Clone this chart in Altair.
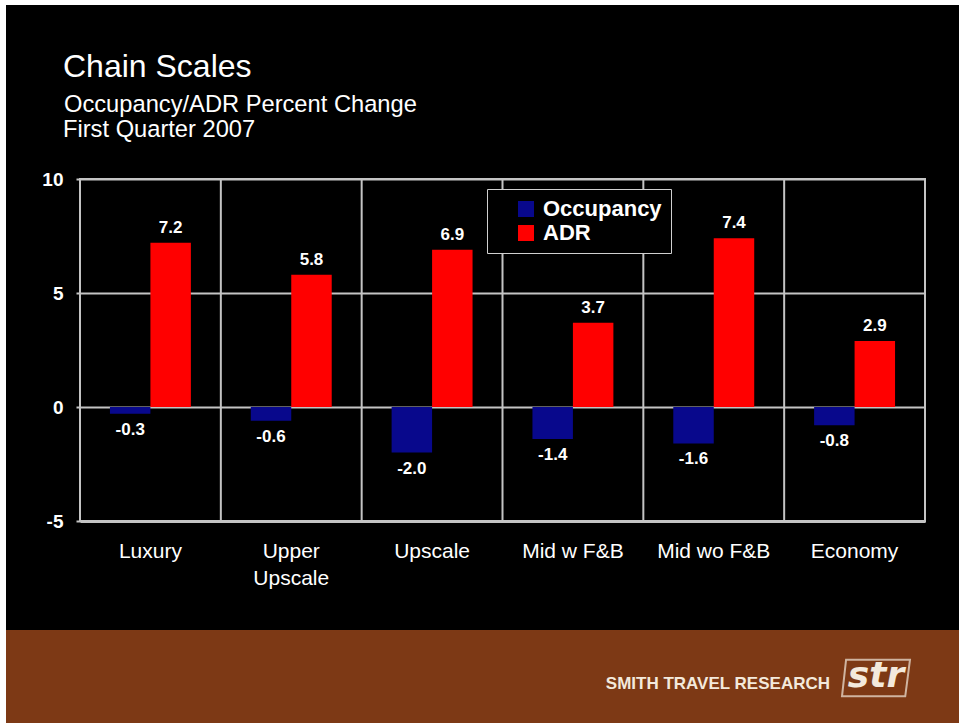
import altair as alt
import pandas as pd

categories = ["Luxury", "Upper Upscale", "Upscale", "Mid w F&B", "Mid wo F&B", "Economy"]
occupancy = [-0.3, -0.6, -2.0, -1.4, -1.6, -0.8]
adr = [7.2, 5.8, 6.9, 3.7, 7.4, 2.9]
series = ["Occupancy", "ADR"]
colors = ["#08088c", "#ff0000"]
y_ticks = [-5, 0, 5, 10]
title_lines = ["Chain Scales", "Occupancy/ADR Percent Change", "First Quarter 2007"]
footer_text = "SMITH TRAVEL RESEARCH"
logo_text = "str"

rows = []
for c, o, a in zip(categories, occupancy, adr):
    rows.append({"category": c, "series": "Occupancy", "value": o})
    rows.append({"category": c, "series": "ADR", "value": a})
df = pd.DataFrame(rows)
cat_df = pd.DataFrame({"category": categories})
one = pd.DataFrame({"k": [0]})

W, H = 845, 342
PL, PT = 80, 179
GRID = "#c4c4c4"
FONT = "Liberation Sans"

x_enc = alt.X(
    "category:N", sort=categories,
    scale=alt.Scale(paddingInner=0, paddingOuter=0),
    axis=alt.Axis(
        title=None, labelAngle=0, grid=False, ticks=False, bandPosition=0.5,
        labelAlign="center", labelBaseline="top",
        domain=True, domainColor=GRID, domainWidth=3,
        labelColor="white", labelFont=FONT, labelFontSize=21,
        labelPadding=19, labelLineHeight=27,
        labelExpr="datum.label == 'Upper Upscale' ? ['Upper', 'Upscale'] : datum.label",
    ),
)
xoff = alt.XOffset("series:N", sort=series,
                   scale=alt.Scale(domain=series, paddingInner=0, paddingOuter=0.74))
y_enc = alt.Y(
    "value:Q",
    scale=alt.Scale(domain=[-5, 10], nice=False, zero=False),
    axis=alt.Axis(
        values=y_ticks, title=None, grid=True, gridColor=GRID, gridWidth=2,
        domain=False, ticks=True, tickSize=4, tickColor=GRID, tickWidth=2,
        labelColor="white", labelFont=FONT, labelFontSize=19, labelFontWeight="bold",
        labelPadding=13, labelExpr="datum.value",
    ),
)

# decorative frame (white edge strips) and brown footer band
white_top = alt.Chart(one).mark_rect(color="white").encode(
    x=alt.value(-PL), x2=alt.value(959 - PL), y=alt.value(-PT), y2=alt.value(5 - PT))
white_left = alt.Chart(one).mark_rect(color="white").encode(
    x=alt.value(-PL), x2=alt.value(6 - PL), y=alt.value(-PT), y2=alt.value(723 - PT))
brown = alt.Chart(one).mark_rect(color="#7d3915").encode(
    x=alt.value(6 - PL), x2=alt.value(959 - PL), y=alt.value(630 - PT), y2=alt.value(723 - PT))

vgrid = alt.Chart(cat_df).mark_rule(color=GRID, strokeWidth=2).encode(
    x=alt.X("category:N", sort=categories, bandPosition=0),
    y=alt.value(0), y2=alt.value(H))

bars = alt.Chart(df).mark_bar().encode(
    x=x_enc, xOffset=xoff, y=y_enc,
    color=alt.Color("series:N", sort=series,
                    scale=alt.Scale(domain=series, range=colors),
                    legend=alt.Legend(
                        title=None, orient="none", legendX=407, legendY=10,
                        labelColor="white", labelFont=FONT, labelFontSize=22,
                        labelFontWeight="bold", symbolType="square", symbolSize=256,
                        symbolStrokeWidth=0, padding=9, symbolOffset=19,
                        strokeColor="#d0d0d0", fillColor="black", rowPadding=2,
                        labelOffset=6)),
)

label_expr = "replace(format(datum.value, '.1f'), '\u2212', '-')"

lab_pos = alt.Chart(df).transform_filter(alt.datum.series == "ADR").transform_calculate(
    lbl=label_expr).mark_text(
    color="white", font=FONT, fontSize=17, fontWeight="bold", baseline="alphabetic", dy=-10
).encode(x=alt.X("category:N", sort=categories), xOffset=xoff, y="value:Q",
         text="lbl:N")
lab_neg = alt.Chart(df).transform_filter(alt.datum.series == "Occupancy").transform_calculate(
    lbl=label_expr).mark_text(
    color="white", font=FONT, fontSize=17, fontWeight="bold", baseline="alphabetic", dy=21
).encode(x=alt.X("category:N", sort=categories), xOffset=xoff, y="value:Q",
         text="lbl:N")

t1 = alt.Chart(one).mark_text(align="left", baseline="alphabetic", color="white",
                              font=FONT, fontSize=32).encode(
    x=alt.value(63 - PL), y=alt.value(77 - PT), text=alt.value(title_lines[0]))
t2 = alt.Chart(one).mark_text(align="left", baseline="alphabetic", color="white",
                              font=FONT, fontSize=23.7).encode(
    x=alt.value(64 - PL), y=alt.value(112 - PT), text=alt.value(title_lines[1]))
t3 = alt.Chart(one).mark_text(align="left", baseline="alphabetic", color="white",
                              font=FONT, fontSize=23.7).encode(
    x=alt.value(63 - PL), y=alt.value(137 - PT), text=alt.value(title_lines[2]))

footer = alt.Chart(one).mark_text(align="right", baseline="alphabetic", color="#f3e9dc",
                                  font=FONT, fontSize=17, fontWeight="bold").encode(
    x=alt.value(830 - PL), y=alt.value(689 - PT), text=alt.value(footer_text))
logo_box = alt.Chart(one).mark_point(
    shape="M -0.88 -0.54 L 1 -0.54 L 0.86 0.54 L -1 0.54 Z",
    filled=False, stroke="#f3e9dc", strokeWidth=2, size=4624).encode(
    x=alt.value(876 - PL), y=alt.value(678 - PT))
logo = alt.Chart(one).mark_text(align="center", baseline="middle", color="#f3e9dc",
                                font="DejaVu Sans", fontSize=36, fontStyle="italic",
                                fontWeight="bold").encode(
    x=alt.value(876 - PL), y=alt.value(676 - PT), text=alt.value(logo_text))

chart = alt.layer(
    white_top, white_left, brown, vgrid, bars, lab_pos, lab_neg,
    t1, t2, t3, footer, logo_box, logo
).properties(
    width=W, height=H, autosize="none",
    padding={"left": PL, "top": PT, "right": 959 - PL - W, "bottom": 723 - PT - H},
).configure(background="black").configure_view(stroke=GRID, strokeWidth=2)

chart.save("out.html", embed_options={"renderer": "svg", "actions": False})
